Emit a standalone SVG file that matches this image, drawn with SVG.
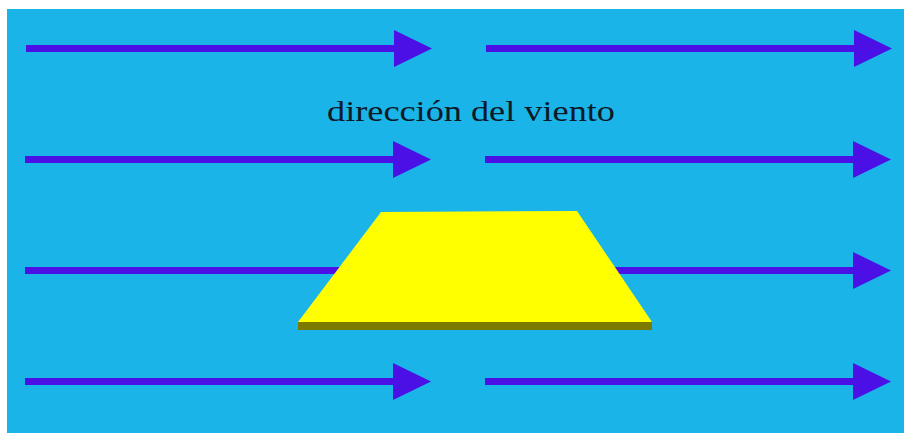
<svg xmlns="http://www.w3.org/2000/svg" width="904" height="433" viewBox="0 0 904 433">
<style>
.ln{stroke:#4a10e6;stroke-width:7;fill:none}
.hd{fill:#4a10e6}
.lbl{font-family:"Liberation Serif","Times New Roman",serif;font-size:30px;fill:#0c1a28}
</style>
<defs>
<g id="arw"><line class="ln" x1="0" y1="0" x2="370" y2="0"/><polygon class="hd" points="368,-18.5 406,0 368,18.5"/></g>
</defs>
<rect x="0" y="0" width="904" height="433" fill="#ffffff"/>
<rect x="7" y="9" width="897" height="424" fill="#1ab4e8"/>
<g id="connectors">
<use href="#arw" x="26" y="48.5"/>
<use href="#arw" x="486" y="48.5"/>
<use href="#arw" x="25" y="159.5"/>
<use href="#arw" x="485" y="159.5"/>
<use href="#arw" x="25" y="270.5"/>
<use href="#arw" x="485" y="270.5"/>
<use href="#arw" x="25" y="381.5"/>
<use href="#arw" x="485" y="381.5"/>
</g>
<g id="plate">
<polygon points="298,322 652,322 652,330 298,330" fill="#7d7a00"/>
<polygon points="381,212 577,211 652,322 298,322" fill="#ffff00"/>
</g>
<g id="label">
<text class="lbl" x="327" y="120.5" textLength="288" lengthAdjust="spacingAndGlyphs">dirección del viento</text>
</g>
</svg>
